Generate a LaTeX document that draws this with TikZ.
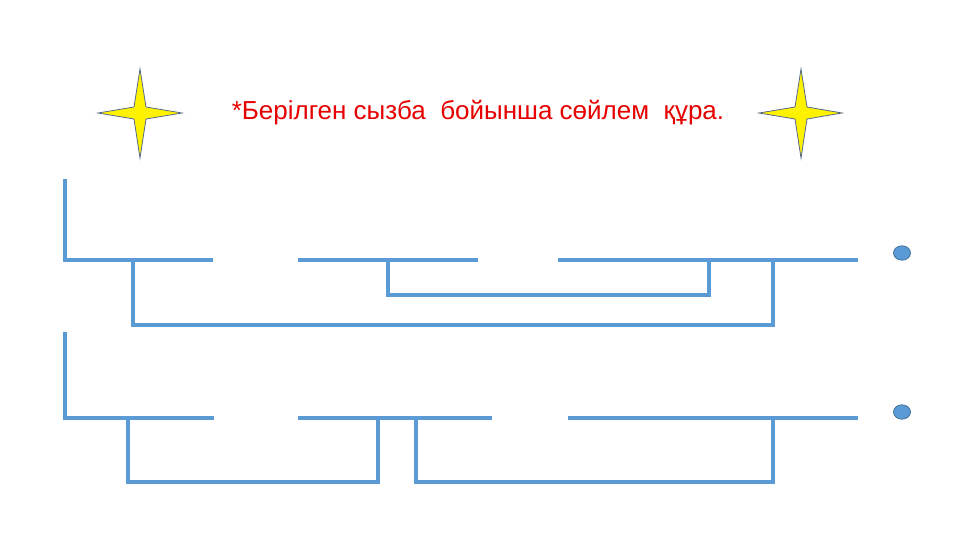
\documentclass[tikz,border=0pt]{standalone}
\usepackage{fontspec}
\setmainfont{Liberation Sans}
\definecolor{linecol}{RGB}{91,155,213}
\definecolor{dotedge}{RGB}{65,113,156}
\definecolor{staredge}{RGB}{84,104,140}
\definecolor{titlered}{RGB}{230,0,0}
\tikzset{
  bar/.style={draw=linecol, line width=3.6pt, line cap=butt, line join=miter},
  starshape/.style={fill=yellow, draw=staredge, line width=0.8pt, line join=miter},
  dotshape/.style={fill=linecol, draw=dotedge, line width=0.8pt}
}
\begin{document}
\begin{tikzpicture}[x=1pt,y=-1pt]
\useasboundingbox (0,0) rectangle (960,540);
% title
\node[anchor=base, text=titlered, font=\fontsize{26}{31}\selectfont, inner sep=0pt] (title) at (478,120) {*Берілген сызба\ \ бойынша сөйлем\ \ құра.};
% stars
\draw[starshape] (140,69) -- (146,107) -- (182,113) -- (146,119) -- (140,158) -- (134,119) -- (98,113) -- (134,107) -- cycle;
\draw[starshape] (801,69) -- (807,107) -- (842,113) -- (807,119) -- (801,158) -- (795,119) -- (759,113) -- (795,107) -- cycle;
% row 1
\draw[bar] (65,179) -- (65,260) -- (213,260);
\draw[bar] (298,260) -- (478,260);
\draw[bar] (558,260) -- (858,260);
\draw[bar] (133,260) -- (133,325) -- (773,325) -- (773,260);
\draw[bar] (388,260) -- (388,295) -- (709,295) -- (709,260);
% row 2
\draw[bar] (65,332) -- (65,418) -- (213,418);
\draw[draw=linecol, line width=4.6pt] (198,418) -- (214,418);
\draw[bar] (298,418) -- (492,418);
\draw[bar] (568,418) -- (858,418);
\draw[bar] (128,418) -- (128,482) -- (378,482) -- (378,418);
\draw[bar] (416,418) -- (416,482) -- (773,482) -- (773,418);
% dots
\draw[dotshape] (902,253) ellipse [x radius=8.5, y radius=7.2];
\draw[dotshape] (902,412) ellipse [x radius=8.5, y radius=7.2];
\end{tikzpicture}
\end{document}
